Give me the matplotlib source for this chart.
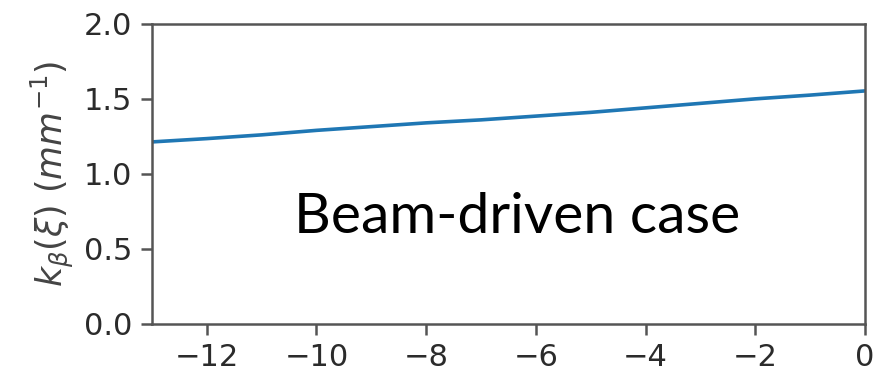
import numpy as np
import matplotlib.pyplot as plt

# betatron wavenumber along the bunch
xi = [-13, -12, -11, -10, -9, -8, -7, -6, -5, -4, -3, -2, -1, 0]
k_beta = [1.213, 1.235, 1.26, 1.29, 1.315, 1.34, 1.36, 1.385, 1.41,
          1.44, 1.47, 1.5, 1.525, 1.553]

fig = plt.figure(figsize=(8.73, 3.78), dpi=100)
ax = fig.add_axes([0.174, 0.143, 0.817, 0.794])

ax.plot(xi, k_beta, color='#1f77b4', lw=2.6)

ax.set_xlim(-13, 0)
ax.set_ylim(0, 2.0)
ax.set_xticks([-12, -10, -8, -6, -4, -2, 0])
ax.set_yticks([0, 0.5, 1.0, 1.5, 2.0])
ax.tick_params(labelsize=22, length=8, width=1.8, colors='#555555',
               labelcolor='#2b2b2b', pad=6)
for s in ax.spines.values():
    s.set_linewidth(1.8)
    s.set_color('#555555')

ax.set_ylabel(r'$k_\beta(\xi)$ $(mm^{-1})$', fontsize=25, color='#444444',
              labelpad=6)

ax.text(0.512, 0.303, 'Beam-driven case', transform=ax.transAxes,
        ha='center', va='baseline', fontsize=41, family='Lato', color='black')

fig.savefig('out.png', dpi=100)
